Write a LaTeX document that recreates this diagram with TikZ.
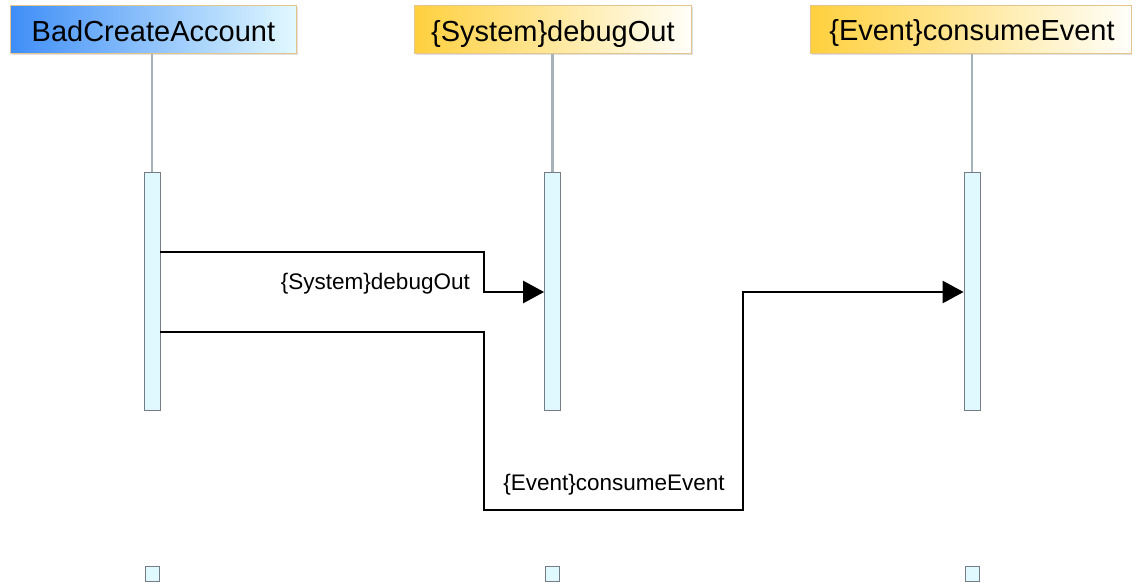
\documentclass[tikz,border=0pt]{standalone}
\usepackage{fontspec}
\setmainfont{Liberation Sans}
\usetikzlibrary{arrows.meta}
\definecolor{hborder}{HTML}{E6C48E}
\definecolor{blueL}{HTML}{3F8EF7}
\definecolor{blueR}{HTML}{E2F9FF}
\definecolor{goldL}{HTML}{FFD03E}
\definecolor{goldR}{HTML}{FFFFFA}
\definecolor{actfill}{HTML}{E0F8FF}
\definecolor{actdraw}{HTML}{757C84}
\definecolor{lifeline}{HTML}{A6B2BA}
\tikzset{
  header/.style={draw=hborder, line width=0.8pt, minimum height=48pt, inner sep=0pt,
    font=\fontsize{29}{30}\selectfont, text height=20pt, text depth=0pt,
    anchor=north west, text=black},
  headtext/.style={font=\fontsize{29}{30}\selectfont, text height=20pt, text depth=0pt,
    inner sep=0pt, text=black},
  bluehead/.style={header, left color=blueL, right color=blueR},
  goldhead/.style={header, left color=goldL, right color=goldR},
  act/.style={draw=actdraw, fill=actfill, line width=0.8pt, minimum width=16pt,
    minimum height=238pt, inner sep=0pt, anchor=north},
  endbox/.style={draw=actdraw, fill=actfill, line width=0.8pt, minimum width=14pt,
    minimum height=15pt, inner sep=0pt, anchor=north},
  life/.style={draw=lifeline, line width=2.3pt},
  msg/.style={draw=black, line width=2.7pt, -{Triangle[length=21pt,width=22pt]}},
  msglabel/.style={font=\fontsize{22.5}{24}\selectfont, inner sep=0pt}
}
\begin{document}
\begin{tikzpicture}[x=1pt,y=-1pt]
\useasboundingbox (0,0) rectangle (1132,583);
% shadows
\fill[black!12] (12,7) rectangle (298,55);
\fill[black!12] (416,7) rectangle (693,55);
\fill[black!12] (812,7) rectangle (1134,55);
% headers
\node[bluehead, minimum width=286pt] (h1) at (10,5) {\raisebox{-2pt}{BadCreateAccount}};
\node[goldhead, minimum width=277pt] (h2) at (414,5) {\raisebox{-2pt}{\{System\}debugOut}};
\node[goldhead, minimum width=321pt] (h3) at (810,5) {};
\node[headtext] (t3) at (972,29) {\raisebox{-2pt}{\{Event\}consumeEvent}};
% activations
\node[act] (a1) at (152,172) {};
\node[act] (a2) at (552.5,172) {};
\node[act] (a3) at (972,172) {};
% lifelines
\draw[life] (h1.south -| a1.north) -- (a1.north);
\draw[life] (h2.south -| a2.north) -- (a2.north);
\draw[life] (h3.south -| a3.north) -- (a3.north);
% end boxes
\node[endbox] (e1) at (152,566) {};
\node[endbox] (e2) at (552.5,566) {};
\node[endbox] (e3) at (972,566) {};
% messages
\coordinate (m1s) at (a1.east |- 0,252);
\coordinate (m1t) at (0,292);
\draw[msg] (m1s) -- (484,252) -- (484,292) -- (a2.west |- m1t);
\node[msglabel, anchor=east] (l1) at (470,284) {\{System\}debugOut};
\coordinate (m2s) at (a1.east |- 0,332);
\coordinate (m2t) at (0,292);
\draw[msg] (m2s) -- (484,332) -- (484,510) -- (743,510) -- (743,292) -- (a3.west |- m2t);
\node[msglabel] (l2) at (614,485) {\{Event\}consumeEvent};
\end{tikzpicture}
\end{document}
